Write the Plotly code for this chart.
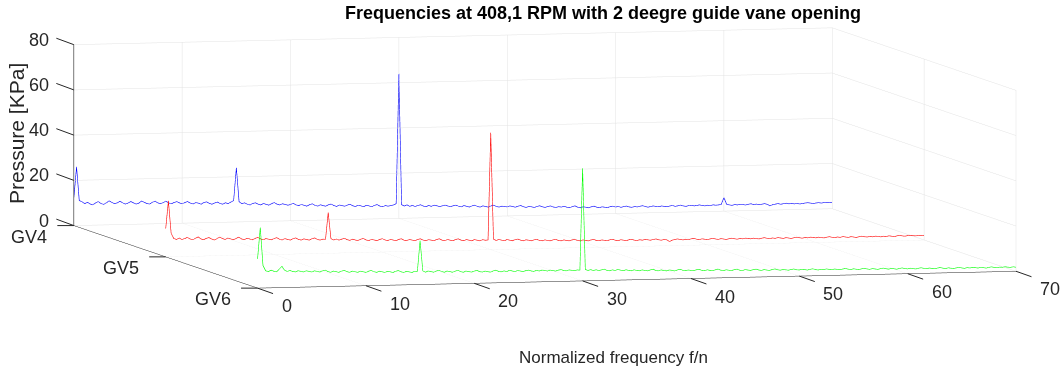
import numpy as np
import plotly.graph_objects as go

# Frequency grid (normalized frequency f/n), 0 .. 70 in steps of 0.25
freq = np.arange(0, 70.0001, 0.25)

gv_labels = ["GV6", "GV5", "GV4"]   # front -> back
gv_pos = [0, 1, 2]

# Pressure amplitude [kPa]
p_gv4 = [
    12.0, 26.0, 11.0, 10.5, 9.6, 10.2, 9.4, 9.0, 9.8, 10.4, 9.5, 9.1, 9.7, 10.6, 9.9, 9.3, 9.6, 10.3, 9.6, 9.0,
    9.4, 10.1, 9.5, 8.9, 9.3, 10.2, 9.6, 9.0, 8.8, 9.5, 10.0, 9.2, 8.8, 9.3, 9.9, 9.1, 8.7, 9.2, 9.6, 9.0,
    8.6, 9.1, 9.5, 8.8, 8.4, 9.0, 8.7, 8.2, 8.9, 9.2, 8.5, 8.1, 8.6, 9.0, 8.3, 8.0, 8.6, 8.2, 8.9, 9.5,
    24.0, 9.0, 8.0, 8.4, 7.8, 7.4, 8.0, 8.3, 7.7, 7.3, 7.9, 7.5, 7.1, 7.8, 8.2, 7.5, 7.1, 7.6, 7.3, 6.9,
    7.2, 7.7, 7.0, 6.6, 7.1, 6.7, 6.3, 6.9, 7.3, 6.6, 6.2, 6.8, 6.4, 6.1, 6.7, 7.0, 6.3, 5.9, 6.5, 6.2,
    5.9, 6.4, 6.7, 6.0, 5.7, 6.2, 5.9, 5.5, 6.1, 5.8, 5.4, 6.0, 6.3, 5.6, 5.3, 5.8, 5.5, 5.7, 6.0, 6.5,
    64.0, 6.0, 5.4, 5.9, 5.2, 5.6, 5.1, 5.5, 5.8, 5.2, 4.9, 5.4, 5.0, 5.5, 5.2, 4.8, 5.1, 5.4, 5.0, 4.7,
    5.0, 5.3, 4.8, 4.5, 5.0, 4.7, 4.3, 4.8, 5.1, 4.5, 4.2, 4.7, 4.4, 4.1, 4.6, 4.9, 4.3, 4.0, 4.4, 4.2,
    4.0, 4.4, 4.1, 3.8, 4.2, 4.5, 3.9, 3.6, 4.0, 3.8, 3.5, 3.9, 4.2, 3.7, 3.4, 3.8, 4.0, 3.5, 3.3, 3.6,
    3.4, 3.7, 3.3, 3.0, 3.5, 3.8, 3.2, 2.9, 3.3, 3.1, 2.8, 3.2, 3.5, 3.0, 2.8, 3.1, 2.9, 2.7, 3.1, 3.3,
    2.9, 3.1, 2.7, 3.0, 3.2, 2.8, 2.6, 2.9, 2.7, 3.0, 3.2, 2.8, 2.5, 2.8, 3.0, 2.7, 2.6, 2.9, 2.7, 2.5,
    2.8, 3.0, 2.6, 2.8, 3.1, 2.7, 2.5, 2.8, 2.9, 2.6, 2.8, 3.0, 2.7, 2.5, 2.8, 2.6, 2.9, 2.7, 2.8, 3.0,
    6.0, 3.0, 2.7, 2.5, 2.8, 2.6, 2.9, 2.7, 2.5, 2.8, 3.0, 2.6, 2.8, 2.5, 2.7, 2.9, 2.6, 1.9, 2.4, 2.6,
    2.8, 2.5, 2.7, 2.9, 2.6, 2.8, 2.5, 2.7, 2.4, 2.6, 2.8, 2.9, 2.7, 2.5, 2.7, 2.8, 2.6, 2.8, 2.7, 2.8,
    2.8,
]

p_gv5 = [
    12.5, 24.7, 10.5, 8.0, 7.6, 8.2, 7.5, 7.9, 8.4, 7.7, 7.3, 7.9, 8.5, 7.6, 7.2, 7.8, 8.1, 7.4, 7.0, 7.6,
    8.2, 7.5, 7.1, 7.7, 7.3, 6.9, 7.5, 8.0, 7.2, 6.8, 7.4, 7.1, 6.7, 7.3, 7.7, 7.0, 6.6, 7.1, 6.8, 6.5,
    7.0, 7.4, 6.7, 6.3, 6.9, 6.5, 6.2, 6.8, 7.1, 6.4, 6.1, 6.6, 6.3, 6.0, 6.6, 6.9, 6.2, 5.9, 6.3, 6.2,
    18.0, 6.4, 5.8, 6.2, 5.7, 6.1, 6.5, 5.8, 5.5, 6.0, 5.6, 5.3, 5.9, 6.2, 5.5, 5.2, 5.7, 5.4, 5.1, 5.6,
    5.9, 5.3, 5.0, 5.5, 5.2, 4.9, 5.4, 5.7, 5.0, 4.8, 5.3, 5.0, 4.7, 5.2, 5.5, 4.9, 4.6, 5.0, 4.8, 4.5,
    5.0, 5.3, 4.7, 4.4, 4.9, 4.6, 4.3, 4.8, 5.1, 4.5, 4.2, 4.7, 4.4, 4.1, 4.6, 4.3, 4.0, 4.5, 4.2, 4.3,
    51.7, 4.6, 4.0, 4.4, 4.1, 3.8, 4.3, 4.0, 3.7, 4.2, 4.4, 3.9, 3.6, 4.0, 3.8, 3.5, 3.9, 4.1, 3.6, 3.4,
    3.8, 3.5, 3.3, 3.7, 3.9, 3.4, 3.2, 3.6, 3.3, 3.1, 3.5, 3.7, 3.2, 3.0, 3.4, 3.2, 2.9, 3.3, 3.5, 3.0,
    2.9, 3.2, 3.0, 2.8, 3.2, 3.4, 2.9, 2.7, 3.1, 2.9, 2.6, 3.0, 3.2, 2.8, 2.6, 2.9, 2.7, 3.0, 2.8, 2.6,
    2.9, 3.1, 2.7, 2.5, 2.8, 2.6, 1.8, 2.4, 2.7, 2.9, 2.6, 2.4, 2.7, 2.5, 2.8, 3.0, 2.6, 2.4, 2.7, 2.5,
    2.3, 2.6, 2.8, 2.5, 2.3, 2.6, 2.4, 2.2, 2.5, 2.7, 2.4, 2.2, 2.5, 2.3, 2.6, 2.4, 2.2, 2.5, 2.3, 2.1,
    2.4, 2.6, 2.3, 2.1, 2.4, 2.2, 2.5, 2.3, 2.1, 2.4, 2.2, 2.0, 2.3, 2.5, 2.2, 2.0, 2.3, 2.1, 2.4, 2.2,
    2.0, 2.3, 2.1, 1.9, 2.2, 2.4, 2.1, 1.9, 2.2, 2.0, 2.3, 2.1, 1.9, 2.2, 2.0, 1.8, 2.1, 2.3, 2.0, 1.9,
    2.1, 1.9, 2.2, 2.0, 1.8, 2.1, 1.9, 2.2, 2.0, 1.8, 2.1, 2.3, 2.0, 1.9, 2.1, 2.2, 2.0, 1.9, 2.1, 2.0,
    1.9,
]

p_gv6 = [
    12.9, 26.7, 10.0, 7.6, 7.2, 7.8, 7.3, 7.0, 8.2, 9.4, 7.6, 7.1, 7.5, 7.0, 6.8, 7.3, 7.0, 6.7, 7.2, 6.9,
    6.6, 7.1, 6.8, 6.5, 7.0, 7.3, 6.6, 6.3, 6.8, 6.5, 6.2, 6.7, 7.0, 6.4, 6.1, 6.6, 6.3, 6.0, 6.5, 6.2,
    5.9, 6.4, 6.7, 6.1, 5.8, 6.3, 6.0, 5.7, 6.2, 5.9, 5.6, 6.1, 6.4, 5.8, 5.5, 6.0, 5.7, 5.4, 5.9, 5.8,
    19.4, 6.0, 5.4, 5.9, 5.6, 5.3, 5.8, 6.1, 5.5, 5.2, 5.7, 5.4, 5.1, 5.6, 5.9, 5.3, 5.0, 5.5, 5.2, 5.0,
    5.4, 5.7, 5.1, 4.9, 5.3, 5.0, 4.8, 5.3, 5.6, 5.0, 4.8, 5.2, 4.9, 5.4, 5.1, 4.8, 5.2, 5.0, 4.7, 5.1,
    5.3, 4.9, 4.7, 5.1, 4.8, 5.2, 5.0, 4.7, 5.1, 4.9, 4.6, 5.0, 5.2, 4.8, 4.6, 5.0, 4.8, 4.6, 4.9, 4.8,
    49.8, 5.0, 4.6, 4.9, 4.5, 4.8, 4.4, 4.7, 5.0, 4.4, 4.2, 4.6, 4.3, 4.7, 4.4, 4.1, 4.5, 4.2, 4.0, 4.4,
    4.1, 3.9, 4.3, 4.0, 3.8, 4.2, 4.5, 3.9, 3.7, 4.1, 3.8, 3.6, 4.0, 3.8, 3.5, 3.9, 4.2, 3.7, 3.5, 3.8,
    3.6, 3.4, 3.8, 4.0, 3.5, 3.3, 3.7, 3.4, 3.2, 3.6, 3.9, 3.4, 3.2, 3.5, 3.3, 3.1, 3.5, 3.7, 3.2, 3.0,
    3.4, 3.2, 3.0, 3.3, 3.5, 3.1, 2.9, 3.2, 3.0, 2.8, 3.2, 3.4, 3.0, 2.8, 3.1, 2.9, 2.7, 3.0, 3.2, 2.8,
    2.7, 3.0, 2.8, 2.6, 2.9, 3.1, 2.7, 2.5, 2.8, 2.6, 2.9, 2.7, 2.5, 2.8, 2.6, 2.4, 2.7, 2.9, 2.6, 2.4,
    2.7, 2.5, 2.3, 2.6, 2.8, 2.5, 2.3, 2.6, 2.4, 2.2, 2.5, 2.7, 2.4, 2.2, 2.5, 2.3, 2.1, 2.4, 2.6, 2.3,
    2.1, 2.4, 2.2, 2.0, 2.3, 2.5, 2.2, 2.0, 2.3, 2.1, 1.9, 2.2, 2.4, 2.1, 1.9, 2.2, 2.0, 1.8, 2.1, 2.3,
    2.0, 1.8, 2.1, 1.9, 2.2, 2.0, 1.8, 2.1, 1.9, 1.7, 2.0, 2.2, 1.9, 1.8, 2.0, 1.9, 2.1, 1.9, 1.8, 2.0,
    1.8,
]

series = [
    ("GV4", gv_pos[2], p_gv4, "#0000ff"),
    ("GV5", gv_pos[1], p_gv5, "#ff0000"),
    ("GV6", gv_pos[0], p_gv6, "#00ff00"),
]

x_ticks = [0, 10, 20, 30, 40, 50, 60, 70]
z_ticks = [0, 20, 40, 60, 80]

title_text = "Frequencies at 408,1 RPM with 2 deegre guide vane opening"
xlabel = "Normalized frequency f/n"
zlabel = "Pressure [KPa]"

FONT = "Liberation Sans, Arial, Helvetica, sans-serif"
TXT = "#262626"
GRID = "#e3e3e3"
TICKFONT = dict(family=FONT, size=18, color=TXT)

x_min, x_max = x_ticks[0], x_ticks[-1]
y_min, y_max = gv_pos[0], gv_pos[-1]
z_min, z_max = z_ticks[0], z_ticks[-1]

fig = go.Figure()
for name, ypos, vals, col in series:
    fig.add_trace(go.Scatter3d(
        x=freq, y=[ypos] * len(freq), z=vals,
        mode="lines", line=dict(color=col, width=1.2),
        name=name, showlegend=False, hoverinfo="skip",
    ))

# vertical z axis line at the back-left edge (as MATLAB draws it)
fig.add_trace(go.Scatter3d(
    x=[x_min, x_min], y=[y_max, y_max], z=[z_min, z_max],
    mode="lines", line=dict(color=TXT, width=1.2), showlegend=False, hoverinfo="skip",
))

axis_common = dict(
    showbackground=False, showgrid=True, gridcolor=GRID, gridwidth=1,
    showline=True, linecolor=TXT, linewidth=1,
    ticks="", showticklabels=False,
    zeroline=False, showspikes=False,
    title=dict(text=""),
)

# tick labels and tick marks anchored at data positions of the scene
scene_ann = []
tick_arrow = dict(showarrow=True, arrowhead=0, arrowwidth=1, arrowcolor=TXT, standoff=0,
                  startstandoff=0, text="", font=dict(size=1))
for v in x_ticks:
    scene_ann.append(dict(x=v, y=y_min, z=z_min, text=str(v), showarrow=False,
                          xanchor="left", yanchor="middle", xshift=22, yshift=-18, font=TICKFONT))
    scene_ann.append(dict(x=v, y=y_min, z=z_min, ax=17, ay=6, **tick_arrow))
for v, lab in zip(gv_pos, gv_labels):
    scene_ann.append(dict(x=x_min, y=v, z=z_min, text=lab, showarrow=False,
                          xanchor="right", yanchor="middle", xshift=-25, yshift=-11, font=TICKFONT))
    scene_ann.append(dict(x=x_min, y=v, z=z_min, ax=-18, ay=0, **tick_arrow))
for v in z_ticks:
    scene_ann.append(dict(x=x_min, y=y_max, z=v, text=str(v), showarrow=False,
                          xanchor="right", yanchor="middle", xshift=-23, yshift=5, font=TICKFONT))
    scene_ann.append(dict(x=x_min, y=y_max, z=v, ax=-19, ay=-7, **tick_arrow))

# camera direction from measured projection of the box
phi = np.deg2rad(4.14)
alpha = np.deg2rad(255.22)
r = 10.0
eye = dict(x=r * np.cos(phi) * np.cos(alpha), y=r * np.cos(phi) * np.sin(alpha), z=r * np.sin(phi))
k = 4.22  # overall zoom of the orthographic box

fig.update_layout(
    width=1061, height=371,
    margin=dict(l=0, r=0, t=0, b=0),
    paper_bgcolor="white",
    font=dict(family=FONT, color=TXT),
    title=dict(text="<b>" + title_text + "</b>", x=603 / 1061, xanchor="center", y=1 - 13 / 371, yanchor="middle",
               font=dict(family=FONT, size=18, color="#000000")),
    scene=dict(
        domain=dict(x=[0, 1], y=[0, 1]),
        xaxis=dict(range=[x_min, x_max], tickvals=x_ticks, **axis_common),
        yaxis=dict(range=[y_min, y_max], tickvals=gv_pos, **axis_common),
        zaxis=dict(range=[z_min, z_max], tickvals=z_ticks, **axis_common),
        aspectmode="manual",
        aspectratio=dict(x=1.0 * k, y=0.948 * k, z=0.232 * k),
        camera=dict(eye=eye, up=dict(x=0, y=0, z=1), center=dict(x=-0.078, y=0.0086, z=-0.148),
                    projection=dict(type="orthographic")),
        bgcolor="white",
        annotations=scene_ann,
    ),
    annotations=[
        dict(text=xlabel, xref="paper", yref="paper", x=613 / 1061, y=1 - 357 / 371,
             showarrow=False, font=dict(family=FONT, size=17, color=TXT), xanchor="center", yanchor="middle"),
        dict(text=zlabel, xref="paper", yref="paper", x=16 / 1061, y=1 - 134 / 371, textangle=-90,
             showarrow=False, font=dict(family=FONT, size=21, color=TXT), xanchor="center", yanchor="middle"),
    ],
)

fig.write_html("out.html")
